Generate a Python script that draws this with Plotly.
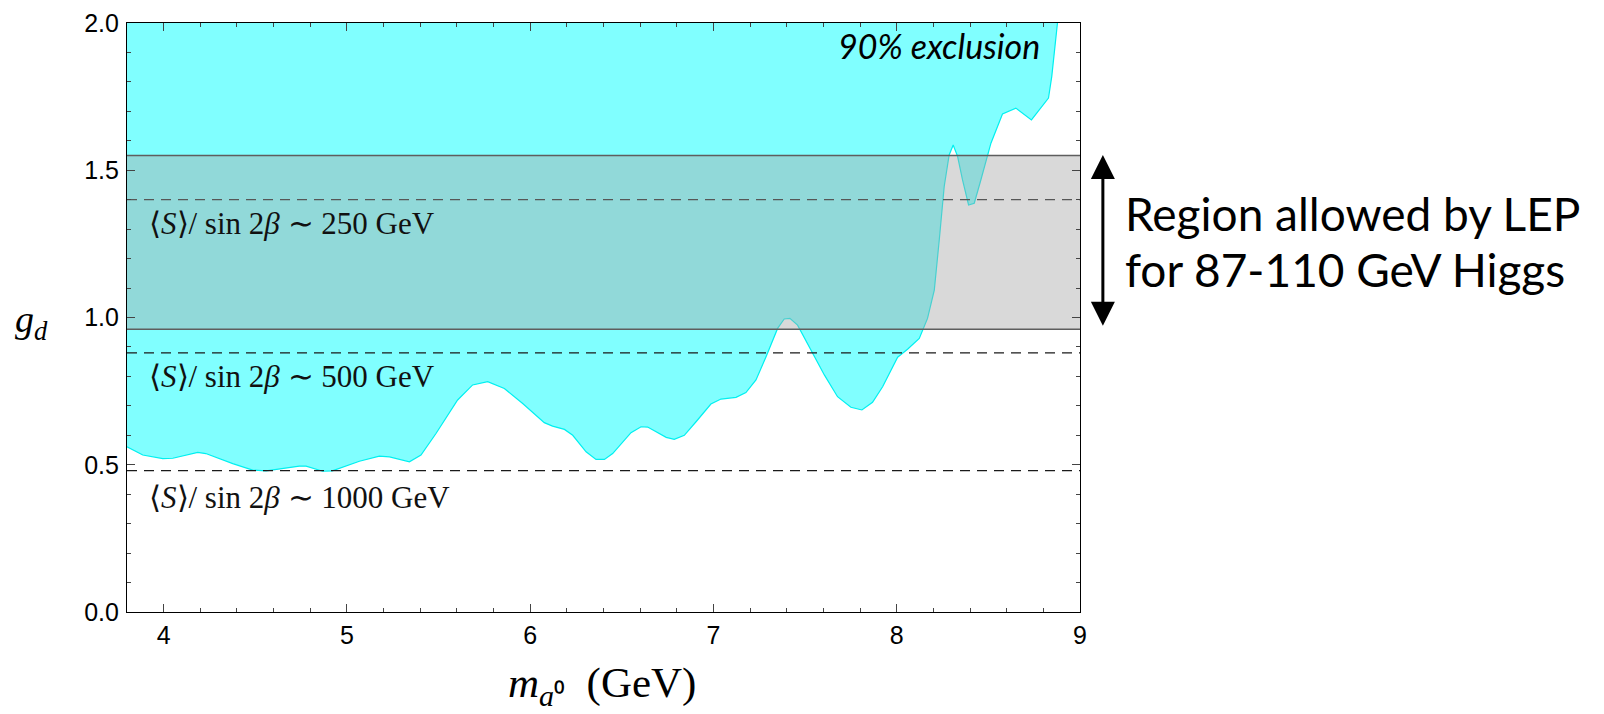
import plotly.graph_objects as go

# ---- data ----
m_a0 = [3.80, 3.886, 3.995, 4.05, 4.186, 4.23, 4.377, 4.486, 4.559, 4.74, 4.777,
        4.868, 4.92, 5.068, 5.177, 5.232, 5.341, 5.404, 5.486, 5.604, 5.686,
        5.768, 5.859, 5.959, 6.077, 6.122, 6.187, 6.232, 6.305, 6.359, 6.405,
        6.45, 6.55, 6.605, 6.641, 6.742, 6.786, 6.841, 6.905, 6.986, 7.041,
        7.123, 7.177, 7.232, 7.287, 7.35, 7.386, 7.417, 7.459, 7.541, 7.605,
        7.677, 7.75, 7.81, 7.868, 7.923, 8.005, 8.059, 8.123, 8.168, 8.205,
        8.232, 8.259, 8.286, 8.308, 8.332, 8.359, 8.392, 8.423, 8.459, 8.514,
        8.577, 8.65, 8.735, 8.828, 8.846, 8.877]
g_d_limit = [0.561, 0.533, 0.521, 0.522, 0.542, 0.538, 0.504, 0.482, 0.479, 0.495, 0.495,
             0.478, 0.479, 0.512, 0.529, 0.527, 0.510, 0.533, 0.606, 0.720, 0.771,
             0.782, 0.759, 0.708, 0.643, 0.631, 0.620, 0.600, 0.544, 0.518, 0.518,
             0.538, 0.609, 0.629, 0.628, 0.593, 0.586, 0.600, 0.646, 0.706, 0.723,
             0.729, 0.745, 0.788, 0.867, 0.963, 0.995, 0.997, 0.974, 0.878, 0.805,
             0.731, 0.695, 0.686, 0.712, 0.765, 0.865, 0.892, 0.929, 0.997, 1.093,
             1.263, 1.445, 1.552, 1.586, 1.547, 1.467, 1.382, 1.388, 1.467, 1.592,
             1.691, 1.711, 1.671, 1.745, 1.819, 2.000]

x_range = [3.8, 9.0]
y_range = [0.0, 2.0]

lep_band = [0.96, 1.55]
vev_lines = [1.40, 0.88, 0.48]
vev_labels = ["250", "500", "1000"]
vev_label_y = [1.32, 0.80, 0.39]

x_ticks = [4, 5, 6, 7, 8, 9]
y_ticks = [0.0, 0.5, 1.0, 1.5, 2.0]
y_ticklabels = ["0.0", "0.5", "1.0", "1.5", "2.0"]

lep_text = ["Region allowed by LEP", "for 87-110 GeV Higgs"]
lep_text_y = [1.354, 1.163]

CYAN_FILL = "rgb(128,255,255)"
CYAN_LINE = "rgb(0,240,240)"

fig = go.Figure()

# exclusion region (from curve up to top)
fig.add_trace(go.Scatter(x=m_a0, y=g_d_limit, mode="lines",
                         line=dict(color=CYAN_LINE, width=1.2),
                         hoverinfo="skip", showlegend=False))
fig.add_trace(go.Scatter(x=[m_a0[0], m_a0[-1]], y=[y_range[1], y_range[1]], mode="lines",
                         line=dict(width=0), fill="tonexty", fillcolor=CYAN_FILL,
                         hoverinfo="skip", showlegend=False))

# dashed line inside the band (drawn before band)
fig.add_trace(go.Scatter(x=x_range, y=[vev_lines[0]] * 2, mode="lines",
                         line=dict(color="#1a1a1a", width=1.3, dash="10px,7px"),
                         hoverinfo="skip", showlegend=False))

# LEP band
fig.add_trace(go.Scatter(x=x_range, y=[lep_band[0]] * 2, mode="lines",
                         line=dict(color="rgba(0,0,0,0)", width=0),
                         hoverinfo="skip", showlegend=False))
fig.add_trace(go.Scatter(x=x_range, y=[lep_band[1]] * 2, mode="lines",
                         line=dict(color="rgba(0,0,0,0)", width=0),
                         fill="tonexty", fillcolor="rgba(166,166,166,0.43)",
                         hoverinfo="skip", showlegend=False))
for yb in lep_band:
    fig.add_trace(go.Scatter(x=x_range, y=[yb] * 2, mode="lines",
                             line=dict(color="#5e5e5e", width=1.4),
                             hoverinfo="skip", showlegend=False))

# other dashed lines
for yv in vev_lines[1:]:
    fig.add_trace(go.Scatter(x=x_range, y=[yv] * 2, mode="lines",
                             line=dict(color="#1a1a1a", width=1.3, dash="10px,7px"),
                             hoverinfo="skip", showlegend=False))

annotations = []
for lab, yl in zip(vev_labels, vev_label_y):
    annotations.append(dict(
        x=3.91, y=yl, xref="x", yref="y", xanchor="left", yanchor="middle",
        text="⟨<i>S</i>⟩/ sin 2<i>β</i> ∼ " + lab + " GeV",
        showarrow=False,
        font=dict(family="Liberation Serif", size=31, color="#111")))

annotations.append(dict(
    x=8.79, y=1.925, xref="x", yref="y", xanchor="right", yanchor="middle",
    text="<i>90% exclusion</i>", showarrow=False,
    font=dict(family="Lato", size=34, color="black")))

annotations.append(dict(
    x=1.024, y=1.552, xref="paper", yref="y",
    ax=0, ay=0.967, axref="pixel", ayref="y",
    text="", showarrow=True, arrowside="end+start",
    arrowhead=2, arrowsize=1.6, arrowwidth=3, arrowcolor="black"))

for line_txt, ly in zip(lep_text, lep_text_y):
    annotations.append(dict(
        x=1.045, y=ly, xref="paper", yref="y", xanchor="left", yanchor="middle",
        text=line_txt, showarrow=False, align="left",
        font=dict(family="Lato", size=46, color="black")))

annotations.append(dict(
    x=0.498, y=-0.126, xref="paper", yref="paper", xanchor="center", yanchor="middle",
    text="<i>m</i><sub><i>a</i>⁰</sub>\u00a0\u00a0(GeV)", showarrow=False,
    font=dict(family="Liberation Serif", size=43, color="black")))

annotations.append(dict(
    x=-0.0997, y=0.985, xref="paper", yref="y", xanchor="center", yanchor="middle",
    text="<i>g</i><sub><i>d</i></sub>", showarrow=False,
    font=dict(family="Liberation Serif", size=38, color="black")))

# page body has an 8px margin: plot area placed at 127..1080 x 23..612 in page pixels
fig.update_layout(
    width=1588, height=698,
    margin=dict(l=119, r=516, t=15, b=94),
    paper_bgcolor="white", plot_bgcolor="white",
    annotations=annotations,
    showlegend=False,
)

axis_common = dict(
    showgrid=False, zeroline=False, showline=True, linecolor="black", linewidth=1.2,
    mirror="ticks", ticks="inside", ticklen=8, tickwidth=1, tickcolor="#444",
    tickfont=dict(family="Liberation Sans", size=25, color="black"),
    automargin=False,
)
fig.update_xaxes(range=x_range, tickvals=x_ticks, ticktext=[str(t) for t in x_ticks],
                 minor=dict(dtick=0.2, ticks="inside", ticklen=4, tickcolor="#444", showgrid=False),
                 ticklabelstandoff=1,
                 **axis_common)
fig.update_yaxes(range=y_range, tickvals=y_ticks, ticktext=y_ticklabels,
                 minor=dict(dtick=0.1, ticks="inside", ticklen=4, tickcolor="#444", showgrid=False),
                 ticklabelstandoff=2,
                 **axis_common)

fig.write_html("out.html")
